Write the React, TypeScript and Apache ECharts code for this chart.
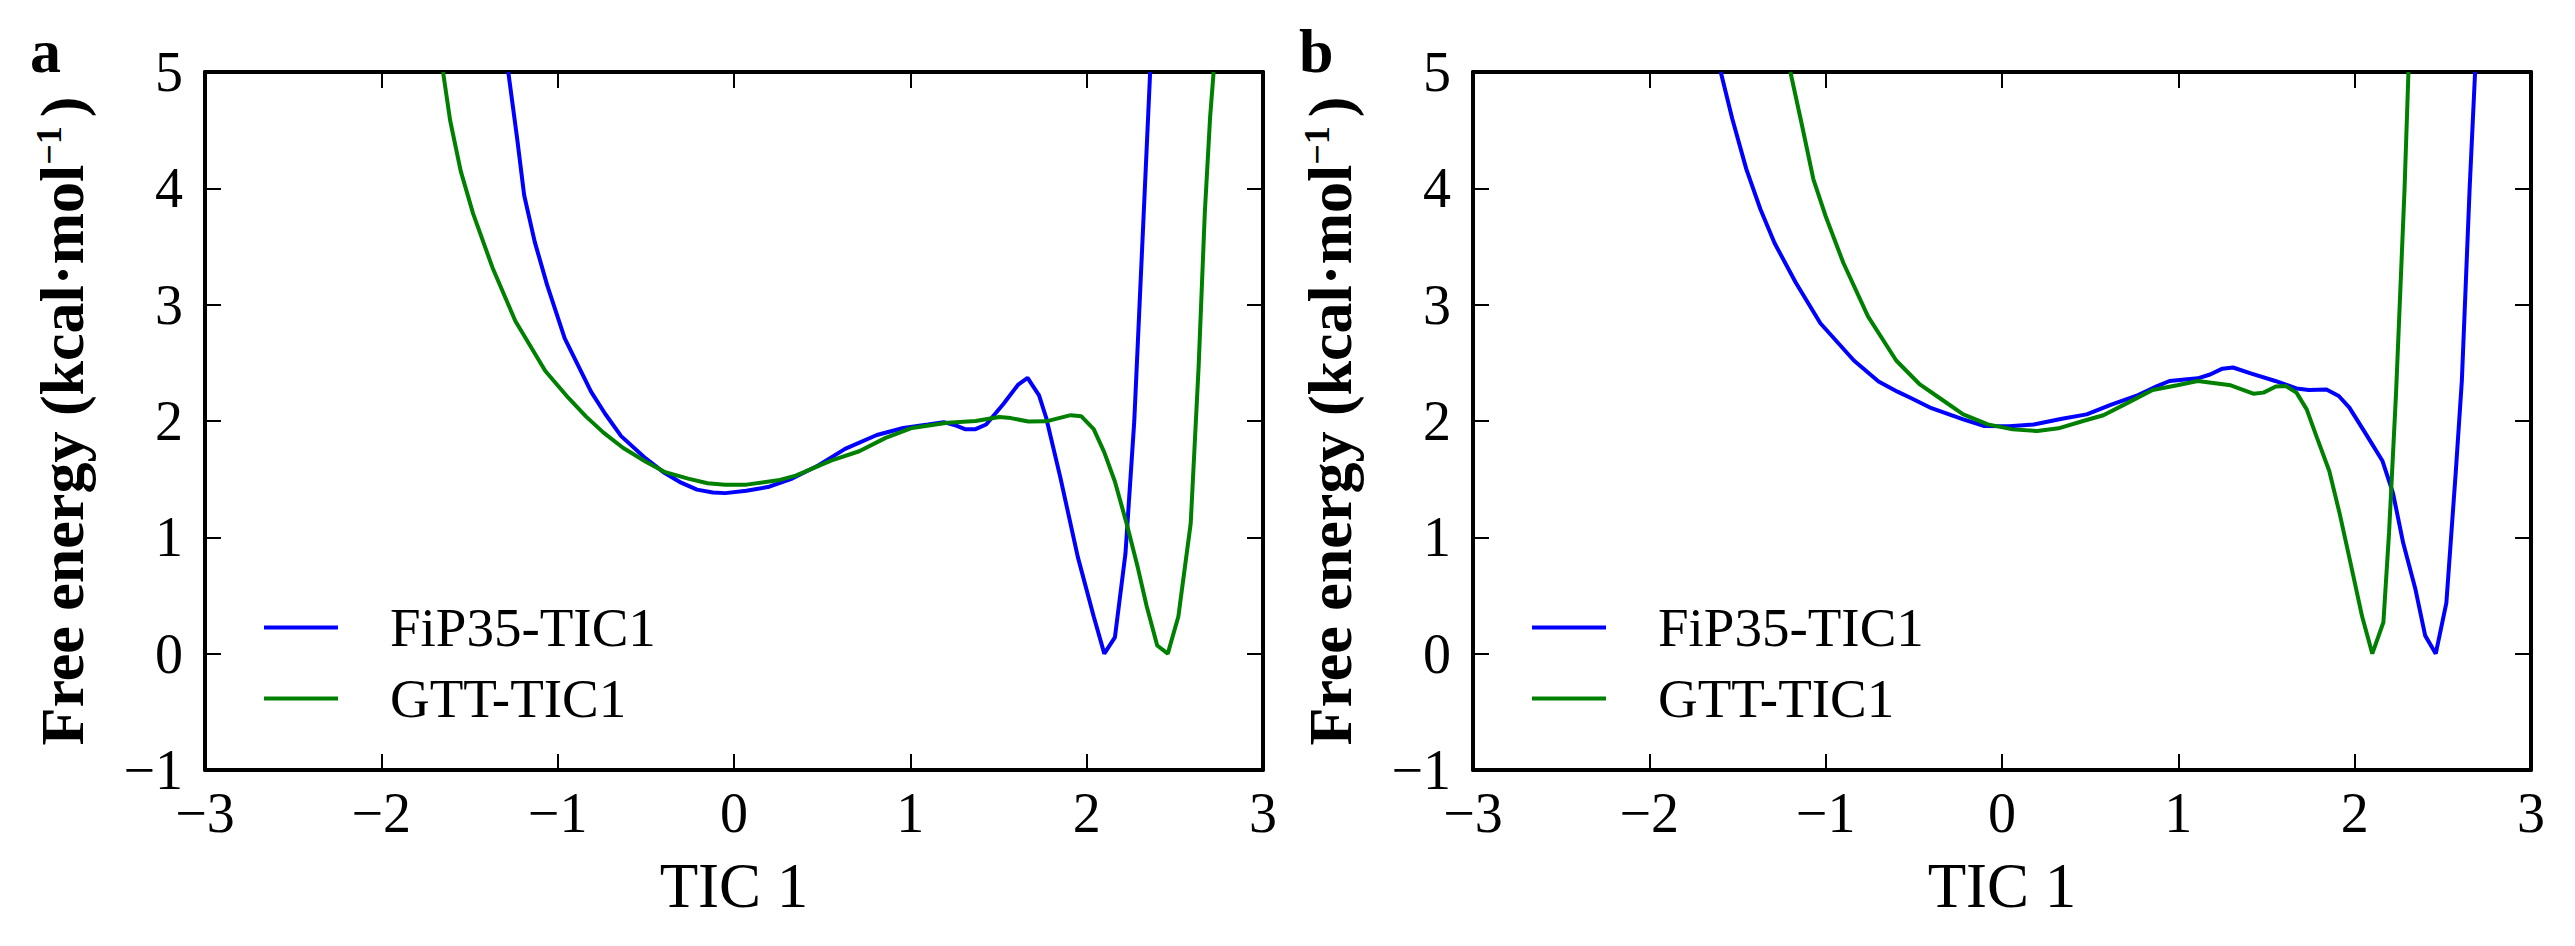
import React, { useEffect, useRef } from "react";
import * as echarts from "echarts";

const FONT = '"Liberation Serif", "DejaVu Serif", serif';
const BLUE = "#0000ff";
const GREEN = "#008000";

const SERIES_NAMES = ["FiP35-TIC1", "GTT-TIC1"];
const PANEL_LABELS = ["a", "b"];
const X_LABEL = "TIC 1";
const X_RANGE = { min: -3, max: 3, interval: 1 };
const Y_RANGE = { min: -1, max: 5, interval: 1 };

// Panel a
const fipA: [number, number][] = [
  [-1.28, 5.0], [-1.23, 4.43], [-1.19, 3.94], [-1.13, 3.54], [-1.06, 3.17],
  [-0.96, 2.71], [-0.81, 2.25], [-0.73, 2.06], [-0.64, 1.87], [-0.51, 1.69],
  [-0.4, 1.56], [-0.3, 1.47], [-0.21, 1.41], [-0.12, 1.385], [-0.05, 1.38],
  [0.07, 1.4], [0.2, 1.435], [0.33, 1.505], [0.48, 1.62], [0.63, 1.76],
  [0.81, 1.88], [0.96, 1.94], [1.1, 1.97], [1.19, 1.99], [1.26, 1.96],
  [1.31, 1.93], [1.37, 1.93], [1.43, 1.97], [1.53, 2.15], [1.61, 2.31],
  [1.665, 2.37], [1.73, 2.22], [1.77, 2.03], [1.85, 1.52], [1.95, 0.83],
  [2.04, 0.32], [2.1, 0.0], [2.16, 0.14], [2.22, 0.86], [2.27, 2.0],
  [2.3, 3.0], [2.33, 4.0], [2.36, 5.0],
];
const gttA: [number, number][] = [
  [-1.65, 5.0], [-1.61, 4.585], [-1.55, 4.15], [-1.48, 3.785], [-1.37, 3.32],
  [-1.24, 2.86], [-1.07, 2.43], [-0.94, 2.2], [-0.84, 2.04], [-0.74, 1.9],
  [-0.63, 1.77], [-0.5, 1.65], [-0.39, 1.56], [-0.26, 1.505], [-0.15, 1.465],
  [-0.05, 1.453], [0.07, 1.453], [0.25, 1.49], [0.35, 1.53], [0.55, 1.66],
  [0.71, 1.74], [0.86, 1.855], [1.01, 1.94], [1.21, 1.985], [1.37, 2.0],
  [1.505, 2.035], [1.57, 2.025], [1.67, 1.995], [1.77, 1.997], [1.91, 2.05],
  [1.97, 2.04], [2.04, 1.93], [2.1, 1.73], [2.16, 1.48], [2.23, 1.1],
  [2.29, 0.74], [2.34, 0.41], [2.4, 0.07], [2.46, 0.0], [2.52, 0.32],
  [2.59, 1.12], [2.635, 2.47], [2.67, 3.79], [2.7, 4.61], [2.72, 5.0],
];

// Panel b
const fipB: [number, number][] = [
  [-1.595, 5.0], [-1.53, 4.6], [-1.45, 4.165], [-1.37, 3.82], [-1.29, 3.53],
  [-1.17, 3.19], [-1.03, 2.84], [-0.84, 2.52], [-0.7, 2.34], [-0.59, 2.25],
  [-0.52, 2.2], [-0.4, 2.11], [-0.22, 2.014], [-0.1, 1.957], [0.04, 1.955],
  [0.18, 1.97], [0.34, 2.02], [0.48, 2.057], [0.62, 2.14], [0.76, 2.215],
  [0.88, 2.3], [0.95, 2.344], [1.11, 2.367], [1.18, 2.4], [1.25, 2.45],
  [1.31, 2.46], [1.41, 2.41], [1.55, 2.344], [1.67, 2.28], [1.74, 2.267],
  [1.84, 2.27], [1.91, 2.215], [1.97, 2.115], [2.065, 1.885], [2.158, 1.656],
  [2.217, 1.383], [2.275, 0.953], [2.345, 0.551], [2.4, 0.155], [2.46, 0.0],
  [2.52, 0.436], [2.573, 1.555], [2.608, 2.35], [2.652, 4.0], [2.683, 5.0],
];
const gttB: [number, number][] = [
  [-1.2, 5.0], [-1.134, 4.54], [-1.07, 4.08], [-1.0, 3.76], [-0.9, 3.36],
  [-0.76, 2.9], [-0.6, 2.52], [-0.47, 2.32], [-0.356, 2.2], [-0.22, 2.057],
  [-0.08, 1.971], [0.06, 1.928], [0.2, 1.914], [0.32, 1.937], [0.46, 2.0],
  [0.575, 2.049], [0.715, 2.158], [0.854, 2.267], [0.994, 2.307], [1.11, 2.344],
  [1.297, 2.307], [1.425, 2.235], [1.483, 2.244], [1.553, 2.296], [1.611, 2.3],
  [1.67, 2.244], [1.728, 2.1], [1.786, 1.857], [1.856, 1.57], [1.914, 1.21],
  [1.972, 0.81], [2.042, 0.321], [2.1, 0.0], [2.163, 0.27], [2.195, 1.04],
  [2.235, 2.25], [2.283, 4.0], [2.305, 5.0],
];

const PANELS = [
  { fip: fipA, gtt: gttA },
  { fip: fipB, gtt: gttB },
];

const GRID_LEFTS = [205, 1473];
const GRID_TOP = 72;
const GRID_W = 1058;
const GRID_H = 698;

const fmt = (v: number) => (v < 0 ? "\u2212" + Math.abs(v) : String(v));

function buildOption() {
  const grid: any[] = [];
  const xAxis: any[] = [];
  const yAxis: any[] = [];
  const series: any[] = [];
  const legend: any[] = [];
  const title: any[] = [];

  const axisLine = { show: true, onZero: false, lineStyle: { color: "#000", width: 4 } };
  const axisTick = { show: true, inside: true, length: 16, lineStyle: { color: "#000", width: 2 } };

  PANELS.forEach((p, i) => {
    grid.push({ left: GRID_LEFTS[i], top: GRID_TOP, width: GRID_W, height: GRID_H, containLabel: false });

    xAxis.push({
      type: "value", gridIndex: i, position: "bottom", ...X_RANGE,
      axisLine, axisTick, splitLine: { show: false },
      axisLabel: { show: true, margin: 15, fontSize: 56, fontFamily: FONT, color: "#000", formatter: fmt },
      name: X_LABEL, nameLocation: "middle", nameGap: 84,
      nameTextStyle: { fontSize: 63, fontFamily: FONT, color: "#000" },
    });
    xAxis.push({
      type: "value", gridIndex: i, position: "top", ...X_RANGE,
      axisLine, axisTick, splitLine: { show: false }, axisLabel: { show: false },
    });

    yAxis.push({
      type: "value", gridIndex: i, position: "left", ...Y_RANGE,
      axisLine, axisTick, splitLine: { show: false },
      axisLabel: { show: true, margin: 22, fontSize: 56, fontFamily: FONT, color: "#000", formatter: fmt },
      name: "{m|Free energy (kcal\u00b7mol}{s|\u22121 }{m|)}",
      nameLocation: "middle", nameGap: 112,
      nameTextStyle: {
        fontSize: 62, fontFamily: FONT, fontWeight: "bold", color: "#000",
        rich: {
          m: { fontSize: 62, fontFamily: FONT, fontWeight: "bold", color: "#000", lineHeight: 62 },
          s: { fontSize: 36, fontFamily: FONT, fontWeight: "bold", color: "#000", lineHeight: 36, verticalAlign: "top" },
        },
      },
    });
    yAxis.push({
      type: "value", gridIndex: i, position: "right", ...Y_RANGE,
      axisLine, axisTick, splitLine: { show: false }, axisLabel: { show: false },
    });

    const lists = [p.fip, p.gtt];
    const colors = [BLUE, GREEN];
    lists.forEach((d, k) => {
      series.push({
        type: "line", name: SERIES_NAMES[k], xAxisIndex: 2 * i, yAxisIndex: 2 * i,
        data: d, symbol: "none", showSymbol: false, smooth: false, clip: true,
        lineStyle: { color: colors[k], width: 4 }, itemStyle: { color: colors[k] },
      });
    });

    legend.push({
      orient: "vertical", left: GRID_LEFTS[i] + 59, top: 600, padding: 0,
      icon: "rect", itemWidth: 74, itemHeight: 4, itemGap: 16, selectedMode: false,
      textStyle: { fontSize: 55, fontFamily: FONT, color: "#000", padding: [0, 0, 0, 47] },
      data: SERIES_NAMES,
    });

    title.push({
      text: PANEL_LABELS[i], left: i === 0 ? 30 : 1299, top: 20, padding: 0,
      textStyle: { fontSize: 62, fontWeight: "bold", fontFamily: FONT, color: "#000" },
    });
  });

  return { animation: false, backgroundColor: "#fff", title, grid, xAxis, yAxis, legend, series };
}

export default function App() {
  const ref = useRef<HTMLDivElement>(null);
  useEffect(() => {
    document.body.style.margin = "0";
    const chart = echarts.init(ref.current as HTMLDivElement, undefined, { renderer: "svg" });
    chart.setOption(buildOption() as any);
    return () => chart.dispose();
  }, []);
  return (
    <div
      ref={ref}
      style={{ position: "absolute", left: 0, top: 0, width: 2575, height: 946, background: "#fff" }}
    />
  );
}
